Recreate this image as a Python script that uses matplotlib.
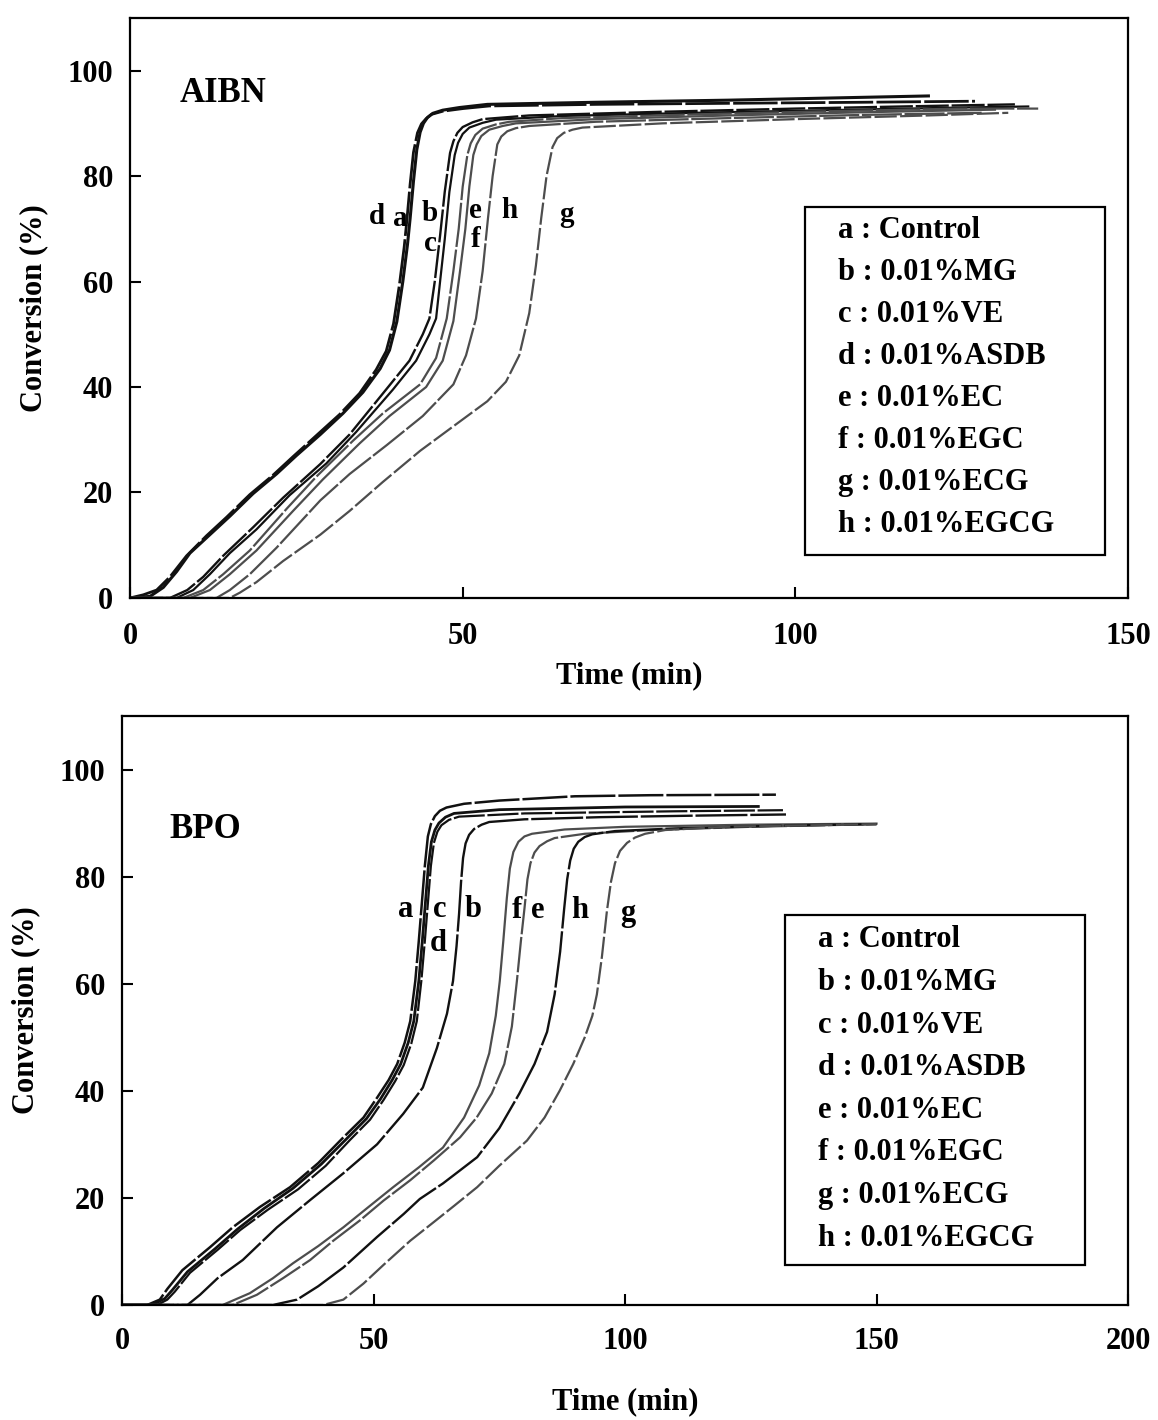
import matplotlib.pyplot as plt
from matplotlib.patches import Rectangle

# ---------------- AIBN (top panel) ----------------
aibn_a_t = [0, 3, 5, 7, 9, 12, 15, 18.5, 22, 25, 28.6, 32, 35, 37.6, 39, 40.1, 41, 41.7, 42.1, 42.6, 43.1, 43.6, 44.1, 44.7, 45.5, 47, 49.5, 53.7, 70, 90, 105, 120]
aibn_a_c = [0, 0.3, 2, 5, 8.5, 12, 15.5, 19.8, 23.5, 27, 31, 35, 39, 43.5, 47, 52.4, 60, 67, 72, 79, 85, 88.3, 90, 91.1, 91.9, 92.5, 93, 93.6, 94, 94.4, 94.8, 95.2]
aibn_d_t = [0, 2, 4, 6, 8.5, 11.5, 14.5, 18, 21.5, 24.5, 28, 31.5, 34.5, 37, 38.5, 39.6, 40.5, 41.2, 41.6, 42.1, 42.6, 43.2, 43.8, 44.5, 45.3, 47, 50, 54, 70, 90, 110, 127]
aibn_d_c = [0, 0.6, 1.5, 4, 8, 11.8, 15.3, 19.6, 23.3, 26.8, 30.8, 34.8, 38.8, 43.3, 46.8, 52, 59.5, 66.5, 71.5, 78.5, 84.5, 88.2, 89.9, 90.9, 91.7, 92.3, 92.8, 93.3, 93.6, 93.8, 94, 94.2]
aibn_b_t = [0, 6, 8.6, 11, 14, 18.5, 23, 28.6, 33, 38.6, 42, 44, 45, 45.8, 46.6, 47.3, 48.1, 48.6, 49.2, 50, 51.5, 53, 60, 80, 100, 120, 133]
aibn_b_c = [0, 0, 1.5, 4, 8, 13.4, 19, 25.4, 31, 39.7, 45, 50, 53, 60, 68.7, 77, 84.4, 86.6, 88.2, 89.3, 90.2, 90.8, 91.5, 92.2, 92.8, 93.3, 93.6]
aibn_c_t = [0, 7, 9.5, 12, 15, 19, 24, 29.5, 34, 39.5, 43, 45, 46, 46.6, 47.3, 48, 48.8, 49.3, 50, 51, 53, 55, 65, 85, 105, 125, 135]
aibn_c_c = [0, 0, 1.5, 4.5, 8.5, 13, 19.5, 25.5, 31.5, 39.5, 45, 50, 53, 60, 68, 77, 84, 86.3, 88, 89.2, 90.1, 90.7, 91.4, 92, 92.5, 93, 93.2]
aibn_e_t = [0, 8, 11, 14, 18, 23.6, 28, 33.5, 38, 43.6, 46, 47.6, 48.6, 49.4, 50, 50.7, 51.2, 51.9, 53, 55, 57, 65, 85, 105, 125, 136.5]
aibn_e_c = [0, 0, 1.5, 4.5, 9, 17, 23, 29.8, 35, 40.5, 45.5, 53, 62, 70, 78, 84, 86.2, 87.8, 89, 89.8, 90.3, 91, 91.7, 92.3, 92.8, 92.8]
aibn_f_t = [0, 9, 12, 15, 19, 24.5, 29, 34.5, 39, 44.5, 47, 48.6, 49.6, 50.4, 51, 51.6, 52.1, 52.8, 54, 56, 58, 70, 90, 110, 130]
aibn_f_c = [0, 0, 1.5, 4.5, 9, 16.5, 22.5, 29.3, 34.5, 40, 45, 52.5, 62, 70, 78, 84, 86, 87.6, 88.8, 89.5, 90, 90.8, 91.5, 92.1, 92.6]
aibn_h_t = [0, 13, 15, 18, 22, 28.6, 33, 38.6, 44, 48.6, 50.5, 52, 53, 53.8, 54.5, 55.2, 55.8, 56.7, 58, 60, 70, 90, 110, 128]
aibn_h_c = [0, 0, 1.5, 4.5, 9.5, 18.5, 23.5, 29, 34.5, 40.5, 46, 53, 62, 72, 80, 86, 87.5, 88.5, 89.1, 89.5, 90.3, 91, 91.6, 92]
aibn_g_t = [0, 15, 16.5, 19, 23, 28.6, 33, 38, 43.6, 48, 53.7, 56.5, 58.5, 60, 61, 61.8, 62.6, 63.5, 64.2, 65.2, 66.5, 68, 80, 100, 120, 132]
aibn_g_c = [0, 0, 1, 3, 7, 12, 16.5, 22, 27.9, 32, 37.3, 41, 46, 54, 63, 72, 80, 85.5, 87.2, 88.2, 88.8, 89.2, 90, 90.8, 91.5, 92]

# ---------------- BPO (bottom panel) ----------------
bpo_a_t = [0, 5, 7.5, 9, 12, 17.5, 22, 27.4, 33.4, 39, 44, 48, 50.7, 53, 54.7, 56.2, 57.3, 58.3, 59, 59.6, 60.2, 60.8, 61.4, 62.2, 63.2, 64.5, 68, 75, 90, 105, 130]
bpo_a_c = [0, 0, 1, 3, 6.5, 10.8, 14.5, 18.3, 22, 26.5, 31.3, 35, 38.7, 42, 45, 49, 53, 60.5, 68, 75, 82, 87.5, 89.8, 91.3, 92.3, 92.9, 93.6, 94.2, 95, 95.2, 95.3]
bpo_c_t = [0, 6, 8.5, 10, 13, 18.5, 23, 28.2, 34, 39.6, 44.6, 48.6, 51.4, 53.7, 55.4, 56.9, 58, 59, 59.7, 60.3, 60.9, 61.5, 62.2, 63, 64.3, 66, 75, 100, 126.5]
bpo_c_c = [0, 0, 1.2, 2.8, 6.2, 10.5, 14.2, 18, 21.8, 26.3, 31, 34.8, 38.5, 42, 45, 49, 53, 60.5, 68, 75, 82, 86.5, 88.7, 90, 91.1, 91.8, 92.5, 93, 93.1]
bpo_d_t = [0, 7, 9, 10.5, 13.5, 19, 23.5, 29, 35, 40.5, 45.3, 49.3, 52, 54.3, 56, 57.5, 58.6, 59.5, 60.2, 60.8, 61.4, 62, 62.7, 63.5, 65, 67, 80, 110, 131.4]
bpo_d_c = [0, 0, 1, 2.5, 6, 10.3, 14, 17.8, 21.6, 26, 30.8, 34.6, 38.3, 41.8, 44.8, 48.8, 53, 60.5, 68, 75, 82, 86.3, 88.4, 89.6, 90.6, 91.2, 91.8, 92.2, 92.4]
bpo_b_t = [0, 13, 15.5, 19, 24, 30.8, 37.4, 44, 50.7, 55.9, 59.8, 62.6, 64.6, 65.8, 66.5, 67, 67.4, 67.8, 68.3, 69, 70, 71.5, 73, 80, 95, 115, 132]
bpo_b_c = [0, 0, 1.9, 5, 8.4, 14.5, 19.6, 24.6, 30, 35.7, 40.6, 48, 54.4, 60.5, 67, 73, 79, 83.5, 86.2, 87.8, 88.9, 89.7, 90.2, 90.7, 91.1, 91.4, 91.6]
bpo_f_t = [0, 20, 25.4, 30, 34, 39, 44, 49, 53.9, 59, 63.8, 68, 71, 73, 74.3, 75.1, 75.8, 76.5, 77.1, 77.8, 78.8, 80, 81.5, 88, 100, 125, 150]
bpo_f_c = [0, 0, 2.2, 5, 7.8, 11, 14.5, 18.3, 22, 25.7, 29.4, 35, 41, 47, 54, 60.5, 68, 76, 81.5, 84.6, 86.5, 87.5, 88, 88.8, 89.3, 89.7, 89.9]
bpo_e_t = [0, 22, 26.8, 32, 37.4, 42, 47.3, 52, 57.3, 62, 67.2, 70.5, 73.5, 76, 77.5, 78.5, 79.3, 80, 80.6, 81.2, 82, 83, 84.5, 86, 92, 105, 125, 150]
bpo_e_c = [0, 0, 1.9, 5, 8.4, 12, 15.8, 19.5, 23.3, 27, 31.3, 35, 39.5, 45, 52, 60.5, 68, 74, 79.5, 82.5, 84.5, 85.7, 86.6, 87.2, 88, 88.7, 89.3, 89.8]
bpo_h_t = [0, 30, 34.8, 39, 44, 50.7, 56, 59.2, 63.8, 67, 70.6, 75, 79, 82, 84.5, 86, 87.1, 87.9, 88.5, 89.1, 89.8, 90.7, 92, 93.5, 98, 110, 130, 150]
bpo_h_c = [0, 0, 1, 3.5, 7, 12.7, 17, 19.8, 22.7, 25, 27.6, 33, 39.5, 45, 51, 58, 66, 74, 79.5, 83, 85.2, 86.5, 87.4, 87.9, 88.5, 89, 89.5, 89.8]
bpo_g_t = [0, 40, 44, 48, 52, 57.3, 62, 66, 70.6, 75, 80.5, 84, 87, 89.7, 92, 93.5, 94.4, 95.4, 96.4, 97.2, 98, 99, 100.4, 102, 104, 108, 120, 150]
bpo_g_c = [0, 0, 1, 4, 7.5, 12, 15.5, 18.5, 22, 26, 30.7, 35, 40, 45, 50, 54, 58, 65, 73.6, 79, 82.5, 84.8, 86.3, 87.3, 88, 88.7, 89.3, 89.8]

legend_labels = ['a : Control', 'b : 0.01%MG', 'c : 0.01%VE', 'd : 0.01%ASDB',
                 'e : 0.01%EC', 'f : 0.01%EGC', 'g : 0.01%ECG', 'h : 0.01%EGCG']

FONT = 'Liberation Serif'
BLACK = '#111111'
GREY = '#4d4d4d'

plt.rcParams['font.family'] = FONT
plt.rcParams['font.weight'] = 'bold'


def style_axes(ax, xmax, xticks, xpad, xlabelpad):
    ax.set_xlim(0, xmax)
    ax.set_ylim(0, 110)
    ax.set_xticks(xticks)
    ax.set_yticks([0, 20, 40, 60, 80, 100])
    for s in ax.spines.values():
        s.set_linewidth(1.6)
    ax.tick_params(axis='both', direction='in', length=8, width=1.5, labelsize=22)
    ax.tick_params(axis='x', pad=xpad)
    ax.tick_params(axis='y', pad=12)
    ax.set_xlabel('Time (min)', fontsize=22, fontweight='bold', labelpad=xlabelpad)
    ax.set_ylabel('Conversion (%)', fontsize=22, fontweight='bold', labelpad=14)


def draw_box(ax, x0, y0, x1, y1, tx, ty, step):
    ax.add_patch(Rectangle((x0, y0), x1 - x0, y1 - y0, transform=ax.transAxes,
                           fill=False, edgecolor='black', linewidth=1.6))
    for i, lab in enumerate(legend_labels):
        ax.text(tx, ty - i * step, lab, transform=ax.transAxes, fontsize=22,
                fontweight='bold', ha='left', va='center')


fig = plt.figure(figsize=(11.58, 14.2), dpi=100)

# top panel
ax1 = fig.add_axes([0.1123, 0.5789, 0.8618, 0.4085])
ax1.plot(aibn_a_t, aibn_a_c, color=BLACK, lw=2.2)
ax1.plot(aibn_d_t, aibn_d_c, color=BLACK, lw=2.0, dashes=(16, 1.2))
ax1.plot(aibn_b_t, aibn_b_c, color=BLACK, lw=1.7, dashes=(14, 1.2))
ax1.plot(aibn_c_t, aibn_c_c, color=BLACK, lw=1.6)
ax1.plot(aibn_e_t, aibn_e_c, color=GREY, lw=1.6, dashes=(20, 1.2))
ax1.plot(aibn_f_t, aibn_f_c, color=GREY, lw=1.6)
ax1.plot(aibn_h_t, aibn_h_c, color=GREY, lw=1.6, dashes=(18, 1.2))
ax1.plot(aibn_g_t, aibn_g_c, color=GREY, lw=1.6, dashes=(10, 1.5))
style_axes(ax1, 150, [0, 50, 100, 150], 17, 8)

for lab, x, y in [('d', 37.1, 72.3), ('a', 40.6, 72.0), ('b', 45.1, 73.0), ('c', 45.1, 67.3),
                  ('e', 51.9, 73.4), ('f', 51.9, 67.9), ('h', 57.1, 73.4), ('g', 65.6, 72.7)]:
    ax1.text(x, y, lab, fontsize=21, fontweight='bold', ha='center', va='center')
ax1.text(7.5, 95.7, 'AIBN', fontsize=25, fontweight='bold', ha='left', va='center')
draw_box(ax1, 0.6764, 0.0741, 0.977, 0.674, 0.7094, 0.6328, 0.0724)

# bottom panel
ax2 = fig.add_axes([0.1054, 0.081, 0.8687, 0.4148])
ax2.plot(bpo_a_t, bpo_a_c, color=BLACK, lw=1.8, dashes=(18, 1.2))
ax2.plot(bpo_c_t, bpo_c_c, color=BLACK, lw=2.0)
ax2.plot(bpo_d_t, bpo_d_c, color=BLACK, lw=1.6, dashes=(14, 1.2))
ax2.plot(bpo_b_t, bpo_b_c, color=BLACK, lw=1.7, dashes=(22, 1.2))
ax2.plot(bpo_f_t, bpo_f_c, color=GREY, lw=1.6)
ax2.plot(bpo_e_t, bpo_e_c, color=GREY, lw=1.6, dashes=(16, 1.2))
ax2.plot(bpo_h_t, bpo_h_c, color=BLACK, lw=1.7, dashes=(24, 1.2))
ax2.plot(bpo_g_t, bpo_g_c, color=GREY, lw=1.6, dashes=(10, 1.5))
style_axes(ax2, 200, [0, 50, 100, 150, 200], 16, 22)

for lab, x, y in [('a', 56.3, 73.9), ('c', 63.2, 73.9), ('d', 62.8, 67.6), ('b', 69.8, 73.9),
                  ('f', 78.5, 73.6), ('e', 82.7, 73.6), ('h', 91.0, 73.6), ('g', 100.6, 73.2)]:
    ax2.text(x, y, lab, fontsize=22, fontweight='bold', ha='center', va='center')
ax2.text(9.5, 88.8, 'BPO', fontsize=25, fontweight='bold', ha='left', va='center')
draw_box(ax2, 0.659, 0.068, 0.957, 0.662, 0.692, 0.6197, 0.0723)

fig.savefig('out.png', dpi=100)
